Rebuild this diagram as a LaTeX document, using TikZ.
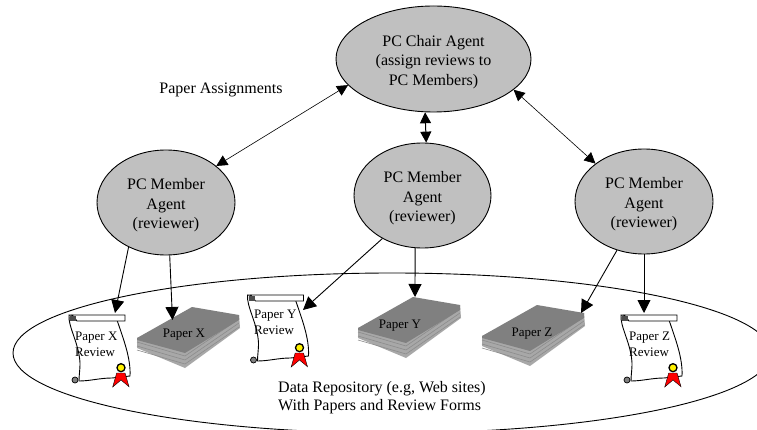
\documentclass[tikz,border=0pt]{standalone}
\usepackage{fontspec}
\setmainfont{Liberation Serif}
\usetikzlibrary{arrows.meta,shapes.geometric}
\definecolor{agentgray}{RGB}{192,192,192}
\definecolor{booktop}{RGB}{128,128,128}
\definecolor{bookside}{RGB}{168,168,168}
\newcommand\agentpad{\rule{0pt}{17pt}}
\tikzset{
 x=1pt,y=-1pt,
 agent/.style={ellipse,draw=black,line width=0.9pt,fill=agentgray,inner sep=0pt,align=center,font=\fontsize{16}{19.5}\selectfont,text=black},
 link/.style={line width=0.9pt,-{Triangle[length=13pt,width=13pt]}},
 biglink/.style={line width=1pt,{Triangle[length=11pt,width=11pt]}-{Triangle[length=11pt,width=11pt]}},
 thinlink/.style={line width=0.6pt,{Triangle[length=11pt,width=11pt]}-{Triangle[length=11pt,width=11pt]}},
 lab/.style={font=\fontsize{16}{18.5}\selectfont,align=left,inner sep=0pt},
 scrolllab/.style={font=\fontsize{13}{16}\selectfont,align=left,inner sep=0pt},
 pics/scrollpic/.style={code={
  \draw[line width=0.9pt,fill=white] (1,2) .. controls (0,14) and (11,30) .. (12,50) .. controls (12,58) and (11,62) .. (11,68) .. controls (22,68) and (32,65) .. (44,65) -- (62,63) .. controls (63,45) and (55,25) .. (49,7) -- cycle;
  \draw[line width=0.9pt,fill=white] (4,2) -- (57,2) -- (57,8) -- (9,8) -- cycle;
  \fill[gray!60!black] (2,3) rectangle (8,8);
  \draw[line width=0.7pt,fill=gray] (7,67) circle (3pt);
  \draw[line width=0.4pt,fill=red] (48.7,60) -- (44.7,74) -- (53,67) -- (61,73.7) -- (57,60) -- cycle;
  \draw[line width=1.3pt,fill=yellow] (53,54.7) circle (4pt);
 }},
 pics/bookpic/.style={code={
  \fill[bookside] (0,16) -- (0,26) -- (48,46) -- (103,6) -- (102,-7) -- cycle;
  \foreach \d in {3,7,11}{\draw[black!45,line width=0.6pt] (0,17+\d) -- (48,31+\d) -- (102,-6+\d);}
  \fill[booktop] (0,16) -- (55,-15) -- (102,-7) -- (102,-2) -- (48,31) -- (0,18) -- cycle;
 }},
}
\begin{document}
\begin{tikzpicture}
\useasboundingbox (0,0) rectangle (757,430);
\clip (0,0) rectangle (757,430);
\fill[white] (0,0) rectangle (757,430);
\draw[line width=0.9pt] (392,353) ellipse [x radius=379,y radius=80];

\node[agent,minimum width=195pt,minimum height=106pt] (chair) at (433.5,59) {\agentpad PC Chair Agent\\(assign reviews to\\PC Members)};
\node[agent,minimum width=138pt,minimum height=105pt] (m1) at (166,202.5) {\agentpad PC Member\\Agent\\(reviewer)};
\node[agent,minimum width=137pt,minimum height=105pt] (m2) at (422.5,195.5) {\agentpad PC Member\\Agent\\(reviewer)};
\node[agent,minimum width=138pt,minimum height=105pt] (m3) at (644,201.5) {\agentpad PC Member\\Agent\\(reviewer)};

\pic (bx) at (137,322) {bookpic};
\pic (by) at (358,312) {bookpic};
\pic (bz) at (482,320) {bookpic};
\pic (sx) at (68,313) {scrollpic};
\pic (sy) at (246.5,293) {scrollpic};
\pic (sz) at (620,313) {scrollpic};

\node[lab] (pa) at (221,90) {Paper Assignments};
\node[scrolllab,anchor=west] (tx) at (75,344) {Paper X\\Review};
\node[scrolllab,anchor=west] (ty) at (254,322.5) {Paper Y\\Review};
\node[scrolllab,anchor=west] (tz) at (629,344) {Paper Z\\Review};
\node[scrolllab] (lbx) at (184,335) {Paper X};
\node[scrolllab] (lby) at (400,326) {Paper Y};
\node[scrolllab] (lbz) at (532,334) {Paper Z};
\node[lab,anchor=west] (repo) at (278,397.5) {Data Repository (e.g, Web sites)\\With Papers and Review Forms};

\coordinate (stx) at (115,313);
\coordinate (btx) at (172.5,320);
\coordinate (sty) at (303,310);
\coordinate (bty) at (415,297);
\coordinate (btz) at (581,313);
\coordinate (stz) at (644,313);

\draw[thinlink] (chair.197.6) -- (m1.36);
\draw[biglink] (chair.261.4) -- (m2.86.7);
\draw[thinlink] (chair.-21.7) -- (m3.142.8);
\draw[link] (m1.230.7) -- (stx);
\draw[link] (m1.274.4) -- (btx);
\draw[link] (m2.227) -- (sty);
\draw[link] (m2.262) -- (bty);
\draw[link] (m3.241.9) -- (btz);
\draw[link] (m3.270) -- (stz);
\end{tikzpicture}
\end{document}
